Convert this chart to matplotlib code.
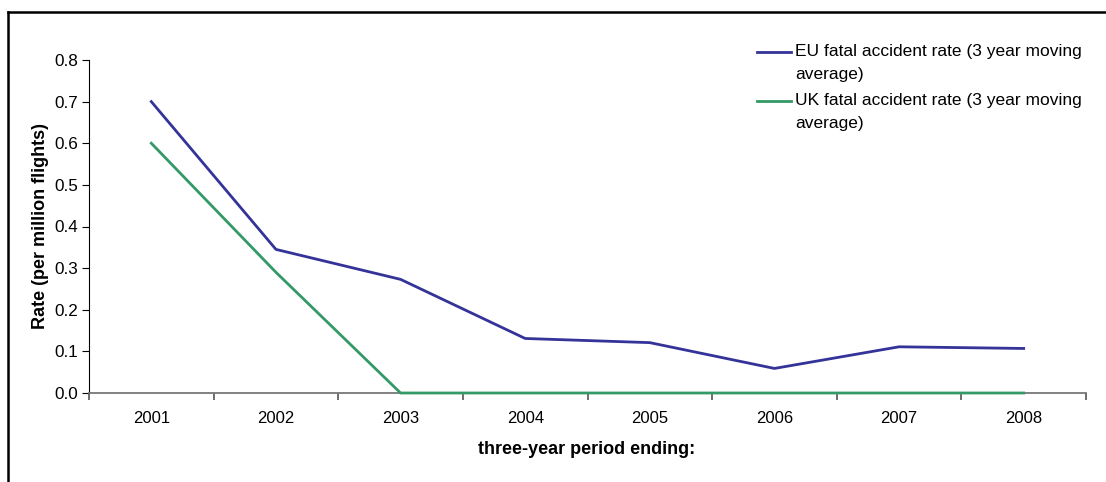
import matplotlib.pyplot as plt
from matplotlib.lines import Line2D
import numpy as np

plt.rcParams['font.family'] = ['Liberation Sans', 'DejaVu Sans']

years = ['2001', '2002', '2003', '2004', '2005', '2006', '2007', '2008']
eu_rate = [0.70, 0.345, 0.273, 0.131, 0.121, 0.059, 0.111, 0.107]
uk_rate = [0.60, 0.29, 0.0, 0.0, 0.0, 0.0, 0.0, 0.0]
labels = ['EU fatal accident rate (3 year moving\naverage)',
          'UK fatal accident rate (3 year moving\naverage)']
colors = ['#333399', '#339966']

W, H = 1106, 482
fig = plt.figure(figsize=(W / 100, H / 100), dpi=100)
ax = fig.add_axes([89 / W, 1 - 393 / H, 997 / W, 333 / H])

x = np.arange(len(years))
ax.plot(x, eu_rate, color=colors[0], lw=2.0, clip_on=False, zorder=3)
ax.plot(x, uk_rate, color=colors[1], lw=2.0, clip_on=False, zorder=4)

ax.set_xlim(-0.5, len(years) - 0.5)
ax.set_ylim(0, 0.8)
yt = np.arange(0, 0.81, 0.1)
ax.set_yticks(yt)
ax.set_yticklabels(['%.1f' % v for v in yt], fontsize=12.3)
ax.set_xticks(x)
ax.set_xticklabels(years, fontsize=12)
ax.set_xticks(np.arange(-0.5, len(years)), minor=True)
ax.tick_params(axis='x', which='major', length=0, pad=13)
ax.tick_params(axis='x', which='minor', length=5, color='#555555', width=1.2)
ax.tick_params(axis='y', length=5, color='black', width=0.8, pad=3)

for s in ['top', 'right']:
    ax.spines[s].set_visible(False)
ax.spines['left'].set_color('black')
ax.spines['left'].set_linewidth(0.8)
ax.spines['bottom'].set_color('#777777')
ax.spines['bottom'].set_linewidth(1.3)

fig.text(587 / W, 1 - 449 / H, 'three-year period ending:', fontsize=13,
         fontweight='bold', ha='center', va='center')
fig.text(41 / W, 1 - 226 / H, 'Rate (per million flights)', fontsize=13,
         fontweight='bold', ha='center', va='center', rotation=90)

# legend, handle aligned with the first text line
for i, (lab, c) in enumerate(zip(labels, colors)):
    yb = 56 + i * 49.3
    fig.add_artist(Line2D([757 / W, 791 / W], [1 - 51.7 / H - i * 49.3 / H] * 2,
                          transform=fig.transFigure, color=c, lw=2.0))
    for j, line in enumerate(lab.split('\n')):
        fig.text(795 / W, 1 - (yb + j * 22.7) / H, line, fontsize=12.5,
                 ha='left', va='baseline')

# outer frame (left and top edges visible)
fig.add_artist(Line2D([8.3 / W, 8.3 / W], [0, 1 - 11.7 / H], transform=fig.transFigure,
                      color='black', lw=1.8))
fig.add_artist(Line2D([8.3 / W, 1], [1 - 11.7 / H, 1 - 11.7 / H], transform=fig.transFigure,
                      color='black', lw=1.8))

fig.savefig('out.png', dpi=100)
